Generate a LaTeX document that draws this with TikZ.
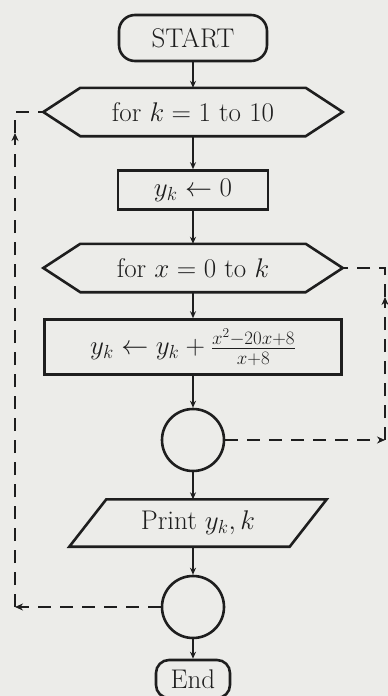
\RequirePackage{fix-cm}
\documentclass[tikz,border=0pt]{standalone}
\usetikzlibrary{calc,arrows.meta,shapes.geometric}
\definecolor{paper}{RGB}{236,236,233}
\definecolor{ink}{RGB}{30,30,30}
\begin{document}
\begin{tikzpicture}[x=1pt,y=-1pt,
  every node/.style={font=\fontsize{27}{32}\selectfont, text=ink},
  ln/.style={line width=2.6pt, draw=ink},
  arr/.style={ln, -{Stealth[length=7pt,width=6pt]}},
  dl/.style={line width=2.3pt, draw=ink, dash pattern=on 13pt off 9pt},
  darr/.style={dl, -{Stealth[length=8pt,width=7pt]}},
  termbox/.style={ln, rectangle, rounded corners=16pt, inner sep=0pt},
  procbox/.style={ln, rectangle, inner sep=0pt},
  hexbox/.style={rectangle, inner sep=0pt, minimum width=225pt, minimum height=48pt},
  conn/.style={ln, circle, minimum size=62pt, inner sep=0pt},
  iobox/.style={rectangle, inner sep=0pt, minimum width=183pt, minimum height=47pt}
]
\fill[paper] (0,0) rectangle (388,696);
\useasboundingbox (0,0) rectangle (388,696);

\node[termbox, minimum width=148pt, minimum height=46pt] (start) at (193,38) {START};

\node[hexbox] (h1) at (193,112) {for $k=1$ to 10};
\coordinate (h1w) at ($(h1.west)+(-37,0)$);
\coordinate (h1e) at ($(h1.east)+(37,0)$);
\draw[ln] (h1.north west) -- (h1.north east) -- (h1e) -- (h1.south east) -- (h1.south west) -- (h1w) -- cycle;

\node[procbox, minimum width=150pt, minimum height=39pt] (b1) at (193,190) {$y_k \leftarrow 0$};

\node[hexbox] (h2) at (193,268) {for $x=0$ to $k$};
\coordinate (h2w) at ($(h2.west)+(-37,0)$);
\coordinate (h2e) at ($(h2.east)+(37,0)$);
\draw[ln] (h2.north west) -- (h2.north east) -- (h2e) -- (h2.south east) -- (h2.south west) -- (h2w) -- cycle;

\node[procbox, minimum width=297pt, minimum height=55pt] (b2) at (193,347) {$y_k \leftarrow y_k + \frac{x^2-20x+8}{x+8}$};

\node[conn] (c1) at (193,440) {};

\node[iobox] (p) at (198,523) {Print $y_k, k$};
\draw[ln] (p.north west) -- ($(p.north east)+(37,0)$) -- (p.south east) -- ($(p.south west)+(-37,0)$) -- cycle;

\node[conn] (c2) at (193,607) {};

\node[termbox, minimum width=74pt, minimum height=38pt, rounded corners=13pt] (end) at (193,679) {End};

\draw[arr] (start) -- (h1);
\draw[arr] (h1) -- (b1);
\draw[arr] (b1) -- (h2);
\draw[arr] (h2) -- (b2);
\draw[arr] (b2) -- (c1);
\draw[arr] (c1) -- (c1 |- p.north);
\draw[arr] (c2 |- p.south) -- (c2);
\draw[arr] (c2) -- (end);

% outer loop (dashed, left)
\coordinate (lb) at (15,607);
\coordinate (lm) at (15,133);
\coordinate (lt) at (15,112);
\draw[darr] (c2.west) -- (lb);
\draw[darr] (lb) -- (lm);
\draw[dl] (lm) -- (lt) -- (h1w);

% inner loop (dashed, right)
\coordinate (rb) at (385,440);
\coordinate (rm) at (385,297);
\coordinate (rt) at (385,268);
\draw[darr] (c1.east) -- (rb);
\draw[darr] (rb) -- (rm);
\draw[dl] (rm) -- (rt) -- (h2e);
\end{tikzpicture}
\end{document}
